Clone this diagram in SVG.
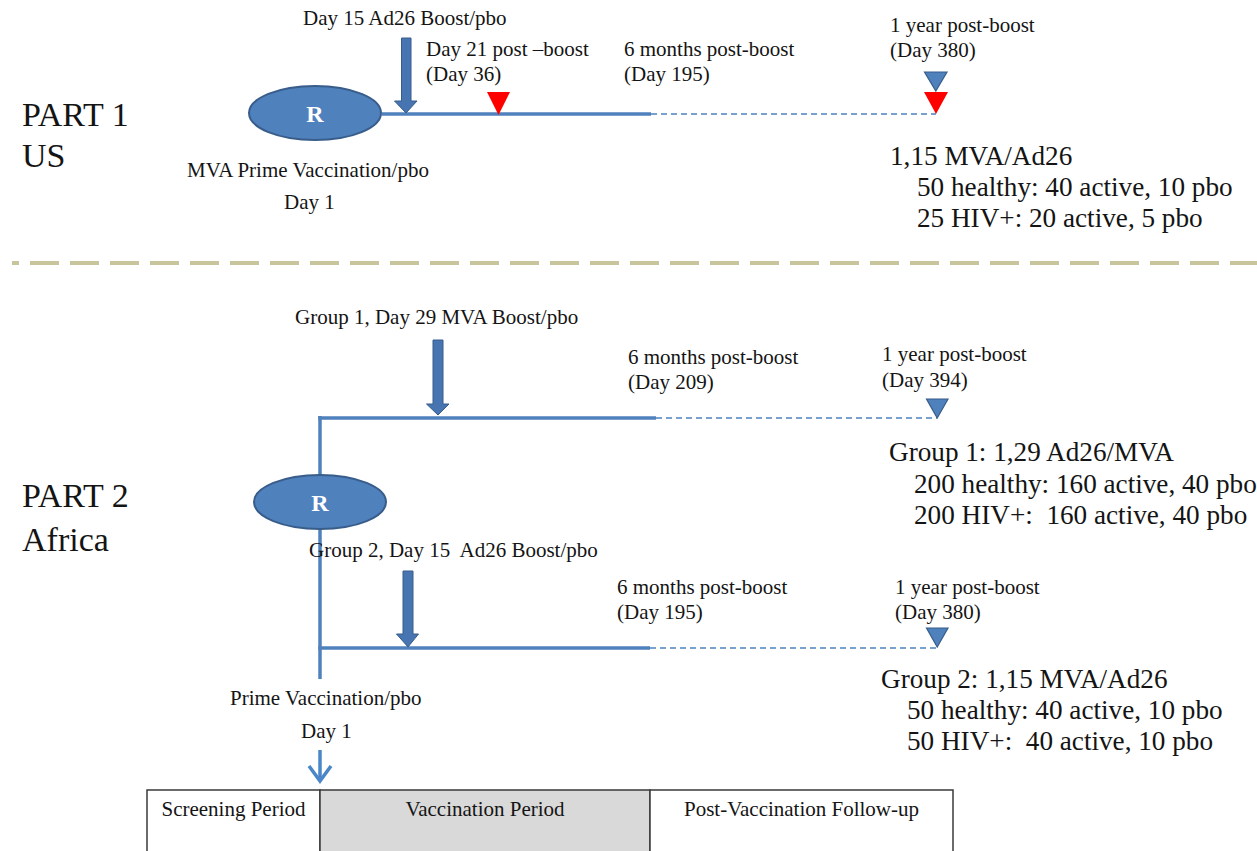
<svg xmlns="http://www.w3.org/2000/svg" width="1257" height="851" viewBox="0 0 1257 851">
<defs>
<style>
text{font-family:"Liberation Serif","Times New Roman",serif;fill:#141414;white-space:pre}
.lbl{font-size:21px}
.big{font-size:27.2px}
.part{font-size:34px}
.tbl{font-size:21px}
.r{font-size:24px;font-weight:bold;fill:#ffffff;text-anchor:middle}
.mid{text-anchor:middle}
.node{fill:#4f81bd;stroke:#385d8a;stroke-width:2}
.solid{stroke:#4f81bd;stroke-width:3.5;fill:none}
.dash{stroke:#4f81bd;stroke-width:1.5;stroke-dasharray:6 4;fill:none}
.blk{fill:#4675b2;stroke:#385d8a;stroke-width:1}
.tri{fill:#4f81bd;stroke:#385d8a;stroke-width:1.2}
.red{fill:#ff0000;stroke:none}
.sep{stroke:#c8c49c;stroke-width:4;stroke-dasharray:29 11;stroke-dashoffset:22}
.cell{stroke:#3a3a3a;stroke-width:1.5;fill:#ffffff}
</style>
</defs>
<rect x="0" y="0" width="1257" height="851" fill="#ffffff"/>

<g id="separator">
<line class="sep" x1="12" y1="263" x2="1257" y2="263"/>
</g>

<g id="connectors">
<!-- Part 1 -->
<line class="solid" x1="382" y1="114" x2="651" y2="114"/>
<line class="dash" x1="651" y1="114" x2="936" y2="114"/>
<!-- Part 2 -->
<line class="solid" x1="320" y1="416" x2="320" y2="679"/>
<line class="solid" x1="318.25" y1="418" x2="656" y2="418"/>
<line class="dash" x1="656" y1="418" x2="937" y2="418"/>
<line class="solid" x1="318.25" y1="648" x2="650" y2="648"/>
<line class="dash" x1="650" y1="648" x2="937" y2="648"/>
<!-- block arrows -->
<polygon class="blk" points="401.5,38 411,38 411,101 417,101 406,113 394.5,101 401.5,101"/>
<polygon class="blk" points="433,340 443,340 443,404 449,404 438,415 426.5,404 433,404"/>
<polygon class="blk" points="403,571 413,571 413,634 418.5,634 408,647 396.5,634 403,634"/>
<!-- day 1 arrow -->
<line x1="320" y1="750" x2="320" y2="780" stroke="#4a86c8" stroke-width="3.5"/>
<polyline points="309,766 320,781 331,766" fill="none" stroke="#4a86c8" stroke-width="3.5" stroke-linejoin="miter"/>
</g>

<g id="part1-label">
<text class="part" x="22" y="126">PART 1</text>
<text class="part" x="22" y="167">US</text>
</g>

<g id="part1-R">
<ellipse class="node" cx="315" cy="113" rx="66" ry="27"/>
<text class="r" x="315" y="122">R</text>
</g>

<g id="part1-prime">
<text class="lbl" x="187" y="177">MVA Prime Vaccination/pbo</text>
<text class="lbl" x="284" y="209">Day 1</text>
</g>

<g id="part1-boost">
<text class="lbl" x="303" y="25">Day 15 Ad26 Boost/pbo</text>
</g>

<g id="part1-day36">
<polygon class="red" points="487,92 510,92 498.5,115"/>
<text class="lbl" x="426" y="56">Day 21 post –boost</text>
<text class="lbl" x="426" y="81">(Day 36)</text>
</g>

<g id="part1-6m">
<text class="lbl" x="624" y="56">6 months post-boost</text>
<text class="lbl" x="624" y="81">(Day 195)</text>
</g>

<g id="part1-1y">
<polygon class="tri" points="924.5,72 947,72 935.8,91"/>
<polygon class="red" points="924,92 948,92 936,114"/>
<text class="lbl" x="890" y="32">1 year post-boost</text>
<text class="lbl" x="890" y="57">(Day 380)</text>
</g>

<g id="part1-summary">
<text class="big" x="890" y="165">1,15 MVA/Ad26</text>
<text class="big" x="917" y="196">50 healthy: 40 active, 10 pbo</text>
<text class="big" x="917" y="227">25 HIV+: 20 active, 5 pbo</text>
</g>

<g id="part2-label">
<text class="part" x="22" y="507">PART 2</text>
<text class="part" x="22" y="551">Africa</text>
</g>

<g id="part2-R">
<ellipse class="node" cx="320" cy="502" rx="66" ry="27"/>
<text class="r" x="320" y="511">R</text>
</g>

<g id="g1-boost">
<text class="lbl" x="295" y="324">Group 1, Day 29 MVA Boost/pbo</text>
</g>

<g id="g1-6m">
<text class="lbl" x="628" y="364">6 months post-boost</text>
<text class="lbl" x="628" y="389">(Day 209)</text>
</g>

<g id="g1-1y">
<polygon class="tri" points="926.5,399 948,399 937.2,418"/>
<text class="lbl" x="882" y="361">1 year post-boost</text>
<text class="lbl" x="882" y="387">(Day 394)</text>
</g>

<g id="g1-summary">
<text class="big" x="889" y="461">Group 1: 1,29 Ad26/MVA</text>
<text class="big" x="914" y="493">200 healthy: 160 active, 40 pbo</text>
<text class="big" x="914" y="524">200 HIV+:  160 active, 40 pbo</text>
</g>

<g id="g2-boost">
<text class="lbl" x="309" y="557">Group 2, Day 15  Ad26 Boost/pbo</text>
</g>

<g id="g2-6m">
<text class="lbl" x="617" y="594">6 months post-boost</text>
<text class="lbl" x="617" y="619">(Day 195)</text>
</g>

<g id="g2-1y">
<polygon class="tri" points="926.5,628 948,628 937.2,647"/>
<text class="lbl" x="895" y="594">1 year post-boost</text>
<text class="lbl" x="895" y="619">(Day 380)</text>
</g>

<g id="g2-summary">
<text class="big" x="881" y="688">Group 2: 1,15 MVA/Ad26</text>
<text class="big" x="907" y="719">50 healthy: 40 active, 10 pbo</text>
<text class="big" x="907" y="750">50 HIV+:  40 active, 10 pbo</text>
</g>

<g id="part2-prime">
<text class="lbl" x="230" y="705">Prime Vaccination/pbo</text>
<text class="lbl" x="301" y="738">Day 1</text>
</g>

<g id="period-table">
<rect class="cell" x="147" y="790" width="173" height="80"/>
<rect class="cell" x="320" y="790" width="330" height="80" style="fill:#d9d9d9"/>
<rect class="cell" x="650" y="790" width="303" height="80"/>
<text class="tbl mid" x="233.5" y="816">Screening Period</text>
<text class="tbl mid" x="485" y="816">Vaccination Period</text>
<text class="tbl mid" x="801.5" y="816">Post-Vaccination Follow-up</text>
</g>
</svg>
